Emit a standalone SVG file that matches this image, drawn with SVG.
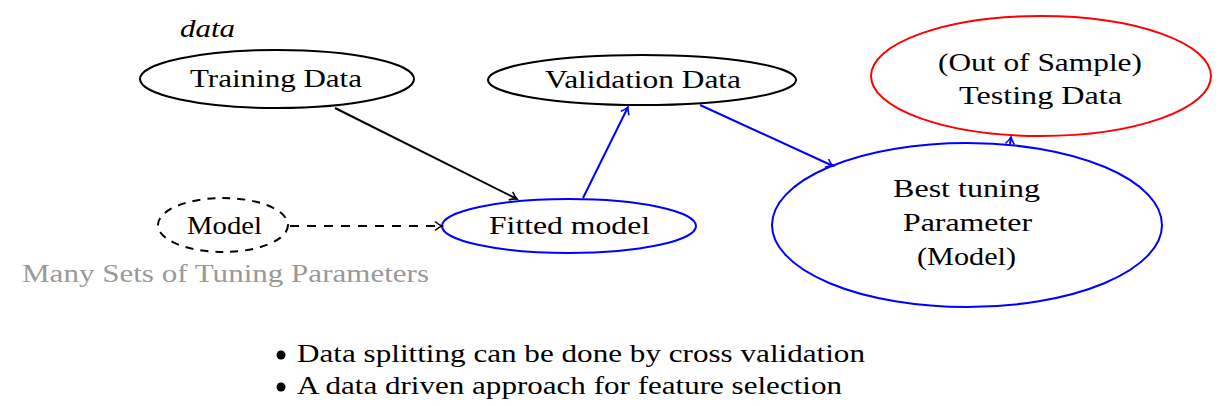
<svg xmlns="http://www.w3.org/2000/svg" width="1224" height="406" viewBox="0 0 1224 406">
<style>
text{font-family:"Liberation Serif","DejaVu Serif",serif;font-size:26px;fill:#000;}
.c{text-anchor:middle;}
.gray{fill:#999;}
.n{fill:none;stroke-width:2;}
.k{stroke:#000;}
.b{stroke:#00f;}
.r{stroke:#f00;}
.e{fill:none;stroke-width:2;}
</style>
<defs>
<marker id="ak" markerWidth="12" markerHeight="12" refX="9" refY="6" orient="auto" markerUnits="userSpaceOnUse">
<path d="M2,1.5 Q6,5 9,6 Q6,7 2,10.5" fill="none" stroke="#000" stroke-width="1.6"/>
</marker>
<marker id="ab" markerWidth="12" markerHeight="12" refX="9" refY="6" orient="auto" markerUnits="userSpaceOnUse">
<path d="M2,1.5 Q6,5 9,6 Q6,7 2,10.5" fill="none" stroke="#00f" stroke-width="1.6"/>
</marker>
</defs>
<text x="180" y="37" style="font-style:italic" textLength="55" lengthAdjust="spacingAndGlyphs">data</text>
<g id="training">
<ellipse class="n k" cx="277" cy="79" rx="137" ry="29"/>
<text x="190" y="87" textLength="172" lengthAdjust="spacingAndGlyphs">Training Data</text>
</g>
<g id="validation">
<ellipse class="n k" cx="642" cy="80" rx="154" ry="25"/>
<text x="545" y="88" textLength="196" lengthAdjust="spacingAndGlyphs">Validation Data</text>
</g>
<g id="model">
<ellipse class="n k" cx="223" cy="225" rx="65" ry="27" stroke-dasharray="8,7"/>
<text x="187" y="234" textLength="75" lengthAdjust="spacingAndGlyphs">Model</text>
<text class="gray" x="22" y="282" textLength="407" lengthAdjust="spacingAndGlyphs">Many Sets of Tuning Parameters</text>
</g>
<g id="fitted">
<ellipse class="n b" cx="569" cy="226" rx="127" ry="27"/>
<text x="489" y="234" textLength="161" lengthAdjust="spacingAndGlyphs">Fitted model</text>
</g>
<g id="testing">
<ellipse class="n r" cx="1041" cy="76" rx="170" ry="60"/>
<text x="938" y="71" textLength="204" lengthAdjust="spacingAndGlyphs">(Out of Sample)</text>
<text x="959" y="104" textLength="163" lengthAdjust="spacingAndGlyphs">Testing Data</text>
</g>
<g id="best">
<ellipse class="n b" cx="967" cy="225" rx="195" ry="82"/>
<text x="893" y="197" textLength="147" lengthAdjust="spacingAndGlyphs">Best tuning</text>
<text x="903" y="231" textLength="129" lengthAdjust="spacingAndGlyphs">Parameter</text>
<text x="917" y="265" textLength="99" lengthAdjust="spacingAndGlyphs">(Model)</text>
</g>
<g id="connectors">
<line class="e k" x1="335" y1="108" x2="517" y2="199" marker-end="url(#ak)"/>
<line class="e k" x1="290" y1="226" x2="442" y2="226" stroke-dasharray="9,8" marker-end="url(#ak)"/>
<line class="e b" x1="583" y1="198" x2="628" y2="107" marker-end="url(#ab)"/>
<line class="e b" x1="700" y1="105" x2="833" y2="166" marker-end="url(#ab)"/>
<line class="e b" x1="1010" y1="144" x2="1011" y2="137" marker-end="url(#ab)"/>
</g>
<g id="notes">
<circle cx="281" cy="355" r="4.5" fill="#000"/>
<text x="297" y="362" textLength="568" lengthAdjust="spacingAndGlyphs">Data splitting can be done by cross validation</text>
<circle cx="281" cy="387" r="4.5" fill="#000"/>
<text x="297" y="394" textLength="545" lengthAdjust="spacingAndGlyphs">A data driven approach for feature selection</text>
</g>
</svg>
